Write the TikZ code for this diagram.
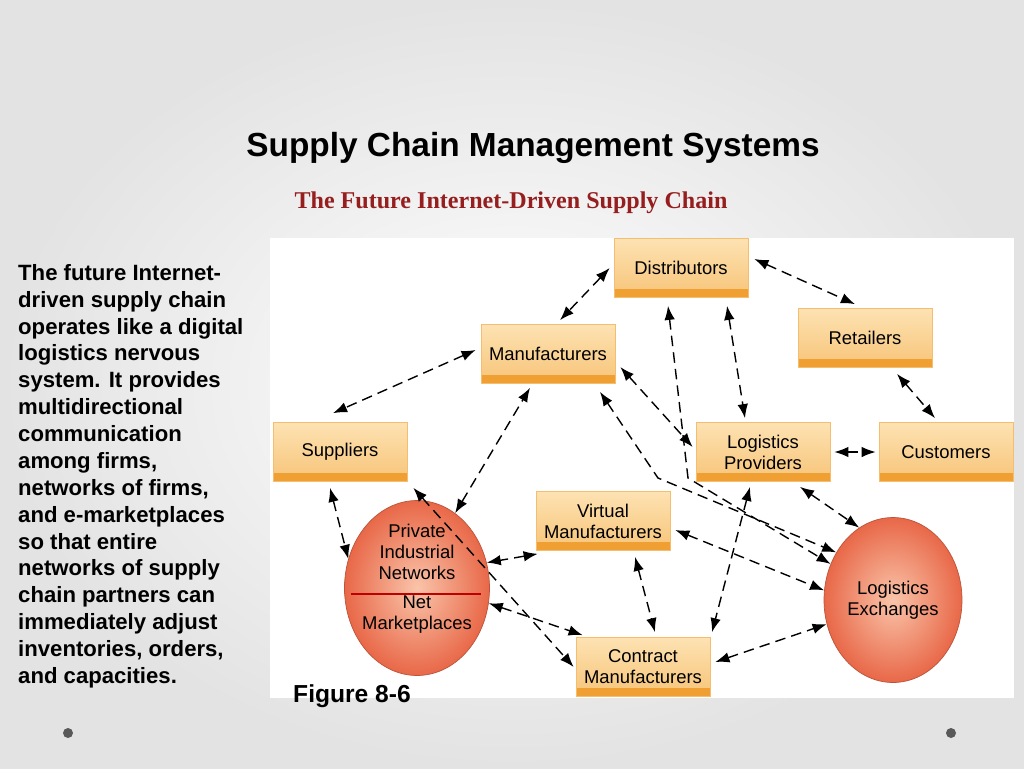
\documentclass[tikz,border=0pt]{standalone}
\usepackage{fontspec}
\setmainfont{Liberation Sans}
\newfontfamily\serifbold{Liberation Serif}
\usetikzlibrary{positioning,calc,arrows.meta,shapes.geometric}

\definecolor{boxtop}{RGB}{253,226,178}
\definecolor{boxbot}{RGB}{247,196,120}
\definecolor{boxbar}{RGB}{240,160,50}
\definecolor{ballin}{RGB}{250,196,170}
\definecolor{ballout}{RGB}{232,104,72}
\definecolor{subred}{RGB}{150,30,30}

\tikzset{
  box/.style={rectangle, top color=boxtop, bottom color=boxbot, draw=boxbar!70,
    minimum width=2.68cm, minimum height=1.18cm, align=center,
    font=\fontsize{10.5}{12}\selectfont, inner sep=1pt,
    path picture={\fill[boxbar] ($(path picture bounding box.south west)$) rectangle
      ($(path picture bounding box.south east)+(0,-9)$);}},
  ball/.style={ellipse, inner color=ballin, outer color=ballout, draw=ballout!80!black,
    minimum width=2.9cm, minimum height=3.5cm},
  link/.style={{Latex[length=8pt,width=6pt]}-{Latex[length=8pt,width=6pt]}, thick,
    dash pattern=on 6pt off 3.5pt},
  balltext/.style={align=center, font=\fontsize{10.5}{12}\selectfont}
}

\begin{document}
\begin{tikzpicture}[x=0.02cm,y=-0.02cm]
\useasboundingbox (0,0) rectangle (1024,768);
\shade[inner color=white, outer color=gray!22] (0,0) rectangle (1024,768);
\fill[white] (270,238) rectangle (1014,698);

% titles
\node (title) at (533,148) {\fontsize{19}{22}\selectfont\bfseries Supply Chain Management Systems};
\node[text=subred] (subtitle) at (511,203) {\serifbold\fontsize{13.7}{16}\selectfont\bfseries The Future Internet-Driven Supply Chain};
\node[anchor=north west, align=left, font=\fontsize{12.6}{15.3}\selectfont\bfseries] (blurb) at (12,258)
  {The future Internet-\\driven supply chain\\operates like a digital\\logistics nervous\\system. It provides\\multidirectional\\communication\\among firms,\\networks of firms,\\and e-marketplaces\\so that entire\\networks of supply\\chain partners can\\immediately adjust\\inventories, orders,\\and capacities.};
\node[font=\fontsize{14}{16}\selectfont\bfseries] (fig) at (352,696) {Figure 8-6};
\fill[gray!70!black] (68,733) circle (5) (951,733) circle (5);

% boxes
\node[box] (dist) at (681,268) {Distributors};
\node[box] (manuf) at (548,354) {Manufacturers};
\node[box] (ret) at (865,338) {Retailers};
\node[box] (supp) at (340,452) {Suppliers};
\node[box] (lp) at (763,452) {Logistics\\Providers};
\node[box] (cust) at (946,452) {Customers};
\node[box] (virt) at (603,521) {Virtual\\Manufacturers};
\node[box] (contr) at (643,667) {Contract\\Manufacturers};

% circles
\node[ball] (pin) at (417,588) {};
\draw[red!75!black, thick] (351,594) -- (481,594);
\node[balltext, above=1pt of pin.center] (pintop) {Private\\Industrial\\Networks};
\node[balltext, below=1pt of pin.center] (pinbot) {Net\\Marketplaces};
\node[ball, minimum width=2.76cm, minimum height=3.3cm] (lex) at (893,600) {};
\node[balltext] (lextext) at (lex.center) {Logistics\\Exchanges};

% links
\draw[link] ($(dist.west)+(-4,0)$) -- ($(manuf.north)+(12,-4)$);
\draw[link] ($(dist.east)+(6,-9)$) -- ($(ret.north)+(-10,-4)$);
\draw[link] ($(manuf.west)+(-5,-4)$) -- ($(supp.north)+(-7,-9)$);
\draw[link] ($(supp.south)+(-10,6)$) -- (pin.157);
\draw[link] (pin.63) -- ($(manuf.south)+(-18,4)$);
\draw[link] ($(supp.south east)+(6,6)$) -- ($(contr.west)+(-2,0)$);
\draw[link] ($(manuf.east)+(5,13)$) -- ($(lp.west)+(-3,-5)$);
\draw[link] ($(manuf.south)+(52,8)$) -- (658,478) -- (lex.140);
\draw[link] ($(dist.south)+(-13,8)$) -- (688,478) -- (lex.150);
\draw[link] ($(dist.south)+(46,8)$) -- ($(lp.north)+(-18,-4)$);
\draw[link] ($(ret.south)+(32,6)$) -- ($(cust.north)+(-11,-4)$);
\draw[link] ($(lp.east)+(4,0)$) -- ($(cust.west)+(-3,0)$);
\draw[link] ($(lp.south)+(37,5)$) -- (lex.115);
\draw[link] ($(virt.south west)+(2,3)$) -- (pin.20);
\draw[link] ($(virt.east)+(5,9)$) -- (lex.172);
\draw[link] ($(virt.south)+(32,6)$) -- ($(contr.north)+(12,-5)$);
\draw[link] ($(lp.south)+(-13,5)$) -- ($(contr.north)+(69,-5)$);
\draw[link] (pin.-12) -- ($(contr.north west)+(7,-2)$);
\draw[link] ($(contr.east)+(5,-5)$) -- (lex.200);
\end{tikzpicture}
\end{document}
